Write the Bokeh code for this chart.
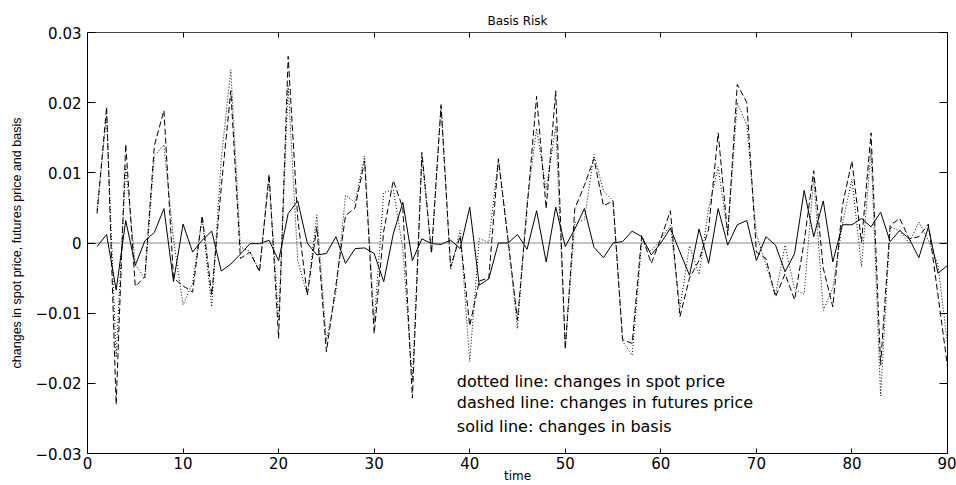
from bokeh.plotting import figure
from bokeh.models import (Range1d, LinearAxis, FixedTicker, Span, Label,
                          CustomJSTickFormatter, CustomLabelingPolicy)
from bokeh.embed import file_html
from bokeh.resources import INLINE

time = list(range(1, 91))

futures = [0.0042, 0.0194, -0.0230, 0.0141, -0.0062, -0.0048, 0.0139, 0.0189, -0.0050, -0.0061,
           -0.0070, 0.0039, -0.0074, 0.0080, 0.0217, -0.0022, -0.0013, -0.0041, 0.0098, -0.0136,
           0.0266, 0.0035, -0.0074, 0.0023, -0.0155, -0.0060, 0.0039, 0.0050, 0.0117, -0.0129,
           0.0017, 0.0089, 0.0050, -0.0221, 0.0129, -0.0015, 0.0196, -0.0034, 0.0010, -0.0118,
           -0.0054, -0.0050, 0.0120, 0.0006, -0.0110, 0.0049, 0.0209, 0.0049, 0.0217, -0.0152,
           0.0049, 0.0082, 0.0120, 0.0053, 0.0060, -0.0138, -0.0143, 0.0011, -0.0029, 0.0006,
           0.0046, -0.0105, -0.0050, -0.0025, 0.0020, 0.0157, 0.0011, 0.0226, 0.0200, -0.0013,
           -0.0022, -0.0077, -0.0044, -0.0081, 0.0002, 0.0103, -0.0036, -0.0091, 0.0053, 0.0117,
           0.0001, 0.0157, -0.0174, 0.0025, 0.0035, 0.0006, 0.0009, 0.0027, -0.0074, -0.0176]

basis = [-0.0005, 0.0012, -0.0067, 0.0032, -0.0032, 0.0003, 0.0015, 0.0049, -0.0055, 0.0027,
         -0.0013, 0.0004, 0.0017, -0.0040, -0.0030, -0.0016, -0.0001, -0.0001, 0.0004, -0.0025,
         0.0042, 0.0060, 0.0000, -0.0017, -0.0015, 0.0009, -0.0029, -0.0008, -0.0007, -0.0015,
         -0.0055, 0.0013, 0.0058, -0.0025, 0.0006, -0.0001, -0.0002, 0.0004, -0.0008, 0.0051,
         -0.0060, -0.0051, 0.0000, 0.0000, 0.0012, -0.0009, 0.0046, -0.0027, 0.0051, -0.0005,
         0.0020, 0.0049, -0.0006, -0.0021, 0.0000, 0.0002, 0.0017, 0.0009, -0.0017, 0.0000,
         0.0021, -0.0013, -0.0046, 0.0020, -0.0029, 0.0049, -0.0003, 0.0026, 0.0032, -0.0025,
         0.0009, -0.0003, -0.0041, -0.0015, 0.0075, 0.0009, 0.0060, -0.0027, 0.0026, 0.0026,
         0.0035, 0.0023, 0.0044, 0.0002, 0.0018, 0.0006, -0.0021, 0.0023, -0.0043, -0.0032]

spot = [0.0047, 0.0182, -0.0163, 0.0109, -0.0030, -0.0051, 0.0124, 0.0140, 0.0005, -0.0088,
        -0.0057, 0.0035, -0.0091, 0.0120, 0.0247, -0.0006, -0.0012, -0.0040, 0.0094, -0.0111,
        0.0224, -0.0025, -0.0074, 0.0040, -0.0140, -0.0069, 0.0068, 0.0058, 0.0124, -0.0114,
        0.0072, 0.0076, -0.0008, -0.0196, 0.0123, -0.0014, 0.0198, -0.0038, 0.0018, -0.0169,
        0.0006, 0.0001, 0.0120, 0.0006, -0.0122, 0.0058, 0.0163, 0.0076, 0.0166, -0.0147,
        0.0029, 0.0033, 0.0126, 0.0074, 0.0060, -0.0140, -0.0160, 0.0002, -0.0012, 0.0006,
        0.0025, -0.0092, -0.0004, -0.0045, 0.0049, 0.0108, 0.0014, 0.0200, 0.0168, 0.0012,
        -0.0031, -0.0074, -0.0003, -0.0066, -0.0073, 0.0094, -0.0096, -0.0064, 0.0027, 0.0091,
        -0.0034, 0.0134, -0.0218, 0.0023, 0.0017, 0.0000, 0.0030, 0.0004, -0.0031, -0.0144]

x_ticks = [0, 10, 20, 30, 40, 50, 60, 70, 80, 90]
y_ticks = [-0.03, -0.02, -0.01, 0.0, 0.01, 0.02, 0.03]

title_text = "Basis Risk"
xlabel_text = "time"
ylabel_text = "changes in spot price, futures price and basis"
notes = ["dotted line: changes in spot price",
         "dashed line: changes in futures price",
         "solid line: changes in basis"]

p = figure(width=956, height=485, x_range=Range1d(0, 90), y_range=Range1d(-0.03, 0.03),
           output_backend="svg", toolbar_location=None,
           min_border_left=87, min_border_right=9, min_border_top=32, min_border_bottom=30,
           title=title_text)
p.grid.visible = False
p.outline_line_color = None
p.background_fill_color = "white"
p.border_fill_color = "white"

p.title.align = "center"
p.title.text_font = "DejaVu Sans"
p.title.text_font_size = "12px"
p.title.text_font_style = "normal"
p.title.text_color = "black"
p.title.standoff = 10

yfmt = CustomJSTickFormatter(code="""
if (Math.abs(tick) < 1e-12) { return "0"; }
return (tick < 0 ? "\u2212" : "") + Math.abs(tick).toFixed(2);
""")

for ax in p.xaxis:
    ax.ticker = FixedTicker(ticks=x_ticks)
    ax.major_tick_in = 5
    ax.major_tick_out = 0
    ax.minor_tick_line_color = None
    ax.major_label_text_font = "DejaVu Sans"
    ax.major_label_text_font_size = "15px"
    ax.major_label_text_color = "black"
    ax.major_label_standoff = 3
    ax.axis_line_color = "black"
    ax.major_tick_line_color = "black"
    ax.axis_label = xlabel_text
    ax.axis_label_text_font = "DejaVu Sans"
    ax.axis_label_text_font_size = "12px"
    ax.axis_label_text_font_style = "normal"
    ax.axis_label_text_color = "black"
    ax.axis_label_standoff = -3

for ax in p.yaxis:
    ax.ticker = FixedTicker(ticks=y_ticks)
    ax.formatter = yfmt
    ax.major_tick_in = 8
    ax.major_tick_out = 0
    ax.minor_tick_line_color = None
    ax.major_label_text_font = "DejaVu Sans"
    ax.major_label_text_font_size = "15px"
    ax.major_label_text_color = "black"
    ax.major_label_standoff = 6
    ax.axis_line_color = "black"
    ax.major_tick_line_color = "black"
    ax.axis_label = ylabel_text
    ax.axis_label_text_font = "Liberation Sans"
    ax.axis_label_text_font_size = "12.5px"
    ax.axis_label_text_font_style = "normal"
    ax.axis_label_text_color = "black"
    ax.axis_label_standoff = 9

top = LinearAxis(ticker=FixedTicker(ticks=x_ticks), major_tick_in=5, major_tick_out=0,
                 minor_tick_line_color=None,
                 major_label_policy=CustomLabelingPolicy(code="return []"),
                 major_label_text_font_size="0px",
                 major_label_standoff=0, axis_line_color="#444444")
right = LinearAxis(ticker=FixedTicker(ticks=y_ticks), major_tick_in=8, major_tick_out=0,
                   minor_tick_line_color=None,
                   major_label_policy=CustomLabelingPolicy(code="return []"),
                   major_label_text_font_size="0px",
                   major_label_standoff=0, axis_line_color="black")
p.add_layout(top, "above")
p.add_layout(right, "right")

p.add_layout(Span(location=0, dimension="width", line_color="#8c8c8c", line_width=1,
                  level="underlay"))

p.line(time, spot, line_color="black", line_width=1, line_dash="1 2")
p.line(time, futures, line_color="black", line_width=1, line_dash="6 3")
p.line(time, basis, line_color="black", line_width=1)

note_y = [-0.0197, -0.0228, -0.0261]
for t, yy in zip(notes, note_y):
    p.add_layout(Label(x=38.65, y=yy, text=t, text_align="left", text_baseline="middle",
                       text_font="DejaVu Sans", text_font_size="16px", text_color="black"))

open("out.html", "w").write(file_html(p, INLINE))
